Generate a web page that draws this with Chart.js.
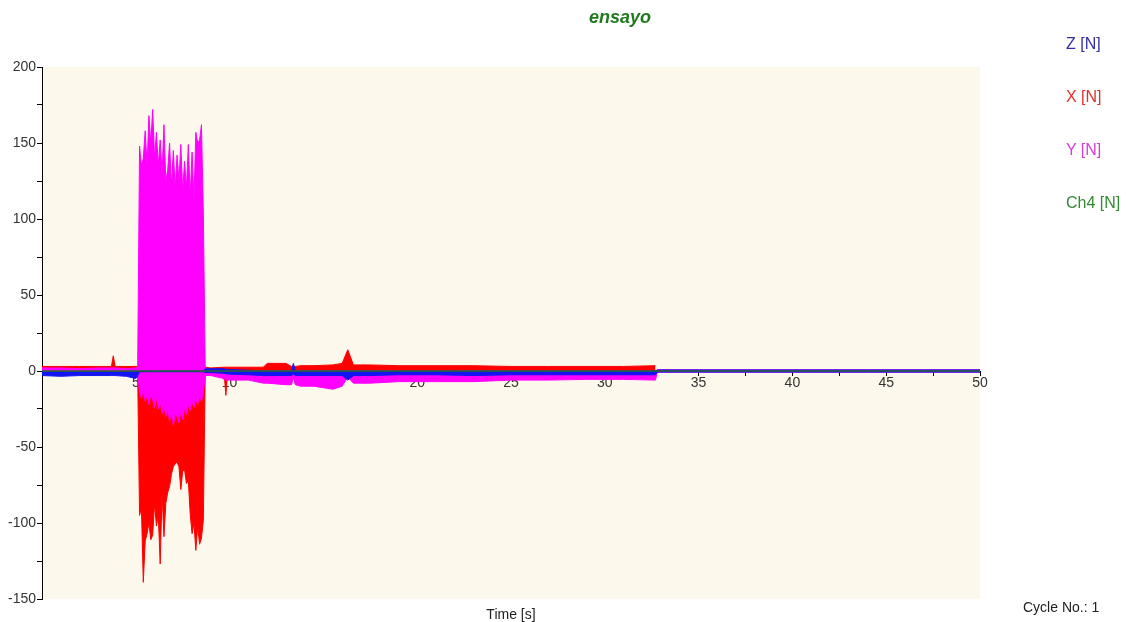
<!DOCTYPE html>
<html>
<head>
<meta charset="utf-8">
<script src="https://cdn.jsdelivr.net/npm/chart.js@4.4.1/dist/chart.umd.min.js"></script>
<style>
  html, body { margin: 0; padding: 0; background: #fff; }
  #wrap { position: relative; width: 1127px; height: 622px; font-family: "Liberation Sans", Arial, sans-serif; }
  canvas { position: absolute; left: 0; top: 0; }
  .txt { position: absolute; white-space: nowrap; }
  .title { left: 520px; width: 200px; top: 8px; text-align: center; font-size: 18px; line-height: 18px; font-weight: bold; font-style: italic; color: #1f7a1f; }
  .leg { left: 1066px; font-size: 16px; line-height: 16px; }
  .xlab { left: 461px; width: 100px; top: 607px; text-align: center; font-size: 14px; line-height: 14px; color: #222; }
  .cycle { left: 1023px; top: 600px; font-size: 14px; line-height: 14px; color: #222; }
</style>
</head>
<body>
<div id="wrap">
  <canvas id="chart" width="1127" height="622"></canvas>
  <div class="txt title">ensayo</div>
  <div class="txt leg" style="top:36px;color:#2f2fa8">Z [N]</div>
  <div class="txt leg" style="top:89px;color:#e0302a">X [N]</div>
  <div class="txt leg" style="top:142px;color:#d23ed2">Y [N]</div>
  <div class="txt leg" style="top:195px;color:#348a34">Ch4 [N]</div>
  <div class="txt xlab">Time [s]</div>
  <div class="txt cycle">Cycle No.: 1</div>
</div>
<script>
// sample times [s]
const time = [
  0, 1, 2, 3, 3.7, 3.8, 3.9, 4.5, 5.0, 5.1,
  5.2, 5.3, 5.4, 5.5, 5.6, 5.7, 5.8, 5.9, 6.0, 6.1,
  6.2, 6.3, 6.4, 6.5, 6.6, 6.7, 6.8, 6.9, 7.0, 7.1,
  7.2, 7.3, 7.4, 7.5, 7.6, 7.7, 7.8, 7.9, 8.0, 8.1,
  8.2, 8.3, 8.4, 8.5, 8.6, 8.7, 9.0, 9.7, 9.8, 9.9,
  11, 11.8, 12.0, 13.0, 13.3, 13.4, 13.5, 13.8, 14.5, 15.5,
  16.0, 16.3, 16.6, 17.5, 19, 21, 23, 25, 27, 29,
  31, 32.7, 32.8, 35, 38, 41, 44, 47, 50
];

// Y [N] envelope (max / min)
const yMax = [
  2, 2, 1.5, 2, 2, 2, 2, 1.5, 2, 3,
  148, 135, 140, 158, 135, 168, 150, 172, 140, 157,
  135, 152, 130, 162, 125, 132, 150, 122, 145, 120,
  142, 125, 149, 118, 138, 120, 149, 115, 144, 112,
  157, 150, 152, 162, 104, 2, 0.5, 0, 0, 0,
  0, 0, 0, 0, 0, 0, 0, 0, 0, 0,
  0, 0, 0, 0, 0, 0, 0, 0, 0, 0,
  0, 0, 0.8, 0.8, 0.8, 0.8, 0.8, 0.8, 0.8
];
const yMin = [
  0, 0, 0, 0, 0, 0, 0, 0, -1, -2,
  -14, -18, -12, -20, -16, -22, -15, -19, -24, -17,
  -25, -20, -28, -22, -30, -24, -33, -26, -36, -28,
  -30, -34, -26, -32, -24, -29, -22, -26, -20, -24,
  -18, -22, -16, -20, -14, -3, -3, -5, -6, -6,
  -6, -8, -8, -9, -9, -4, -9, -10, -10, -12,
  -10, -4, -8, -8, -7, -7, -7, -6, -6, -5.5,
  -5.5, -6, -0.8, -0.8, -0.8, -0.8, -0.8, -0.8, -0.8
];

// X [N] envelope (max / min)
const xMax = [
  3, 3, 3, 3, 3, 10, 3, 3, 3, 3,
  3, 3, 3, 3, 3, 3, 3, 3, 3, 3,
  3, 3, 3, 3, 3, 3, 3, 3, 3, 3,
  3, 3, 3, 3, 3, 3, 3, 3, 3, 3,
  3, 3, 3, 3, 3, 2.5, 2, 2.5, 2.5, 2.5,
  2.5, 2.5, 5, 5, 3, 3, 3, 3.5, 3.5, 4,
  5, 14, 4, 4, 3.5, 3.5, 3.5, 3, 3, 3,
  3, 3.5, null, null, null, null, null, null, null
];
const xMin = [
  0, 0, 0, 0, 0, 0, 0, 0, -1, -2,
  -95, -90, -139, -112, -107, -100, -111, -108, -87, -102,
  -95, -127, -80, -109, -87, -80, -76, -68, -63, -61,
  -60, -63, -78, -66, -65, -74, -72, -94, -107, -100,
  -118, -102, -114, -110, -98, -2, 0, 0, -16, 0,
  0, 0, 0, 0, 0, 0, 0, 0, 0, 0,
  0, 0, 0, 0, 0, 0, 0, 0, 0, 0,
  0, 0, null, null, null, null, null, null, null
];

// Z [N] envelope (max / min)
const zMax = [
  -0.5, -0.5, -0.5, -0.5, -0.5, -0.5, -0.5, -0.5, 0, 0,
  0, 0, 0, 0, 0, 0, 0, 0, 0, 0,
  0, 0, 0, 0, 0, 0, 0, 0, 0, 0,
  0, 0, 0, 0, 0, 0, 0, 0, 0, 0,
  0, 0, 0, 0, 0, 1.5, 1.5, 1.5, 1, 1,
  0.5, 0, 0, 0, 0, 5, 0, 0, 0, 0,
  0, 0, 0, 0, 0, 0, 0, 0, 0, 0,
  0, 0, 0.7, 0.7, 0.7, 0.7, 0.7, 0.7, 0.7
];
const zMin = [
  -3, -3.5, -3, -3, -3, -3, -3, -3.5, -5, -3,
  -0.5, -0.5, -0.5, -0.5, -0.5, -0.5, -0.5, -0.5, -0.5, -0.5,
  -0.5, -0.5, -0.5, -0.5, -0.5, -0.5, -0.5, -0.5, -0.5, -0.5,
  -0.5, -0.5, -0.5, -0.5, -0.5, -0.5, -0.5, -0.5, -0.5, -0.5,
  -0.5, -0.5, -0.5, -0.5, -0.5, -1, -1, -1.5, -2, -2,
  -2.5, -3, -3, -3, -3, -2, -3, -3, -3, -3,
  -3, -6, -3, -3, -2.5, -2.5, -3, -2.5, -2.5, -2.5,
  -2.5, -2.5, -0.7, -0.7, -0.7, -0.7, -0.7, -0.7, -0.7
];

// Ch4 [N]
const ch4Time = [0, 10, 20, 30, 40, 50];
const ch4 = [0, 0, 0, 0, 0, 0];

const xTicks = [5, 10, 15, 20, 25, 30, 35, 40, 45, 50];
const yTicks = [-150, -100, -50, 0, 50, 100, 150, 200];

function pts(xs, ys) {
  return xs.map((x, i) => ({ x: x, y: ys[i] }));
}

function band(label, maxArr, minArr, color, order) {
  return [
    { label: label, data: pts(time, maxArr), borderColor: color, backgroundColor: color,
      fill: "+1", order: order },
    { label: label + " min", data: pts(time, minArr), borderColor: color, backgroundColor: color,
      fill: false, order: order + 1 }
  ];
}

const plotBg = {
  id: "plotBg",
  beforeDraw(chart) {
    const { ctx, chartArea: a } = chart;
    ctx.save();
    ctx.fillStyle = "#fdf8ec";
    ctx.fillRect(a.left, a.top, a.right - a.left, a.bottom - a.top);
    ctx.restore();
  }
};

new Chart(document.getElementById("chart"), {
  type: "line",
  data: {
    datasets: [
      ...band("X [N]", xMax, xMin, "#ff0000", 5),
      ...band("Y [N]", yMax, yMin, "#ff00ff", 3),
      ...band("Z [N]", zMax, zMin, "#1414f0", 1),
      { label: "Ch4 [N]", data: pts(ch4Time, ch4), borderColor: "#2a6a2a", borderWidth: 1.5,
        fill: false, order: 0 }
    ]
  },
  options: {
    responsive: false,
    devicePixelRatio: 1,
    animation: false,
    spanGaps: false,
    layout: { padding: { top: 67, bottom: 23, left: 0, right: 147 } },
    elements: {
      point: { radius: 0 },
      line: { borderWidth: 1, tension: 0 }
    },
    plugins: {
      legend: { display: false },
      tooltip: { enabled: false },
      title: { display: false }
    },
    scales: {
      x: {
        type: "linear",
        min: 0,
        max: 50,
        position: { y: 0 },
        border: { color: "#000", width: 1 },
        grid: { drawOnChartArea: false, drawTicks: true, tickLength: 4, color: "#000" },
        ticks: {
          stepSize: 2.5,
          autoSkip: false,
          maxRotation: 0,
          padding: 0,
          color: "#333",
          font: { family: "Liberation Sans", size: 14 },
          callback: v => (xTicks.includes(v) ? String(v) : "")
        }
      },
      y: {
        min: -150,
        max: 200,
        border: { color: "#000", width: 1 },
        grid: { drawOnChartArea: false, drawTicks: true, tickLength: 5, color: "#000" },
        ticks: {
          stepSize: 25,
          padding: 1,
          color: "#333",
          font: { family: "Liberation Sans", size: 14 },
          callback: v => (yTicks.includes(v) ? String(v) : "")
        },
        afterFit(scale) { scale.width = 42; }
      }
    }
  },
  plugins: [plotBg]
});
</script>
</body>
</html>
